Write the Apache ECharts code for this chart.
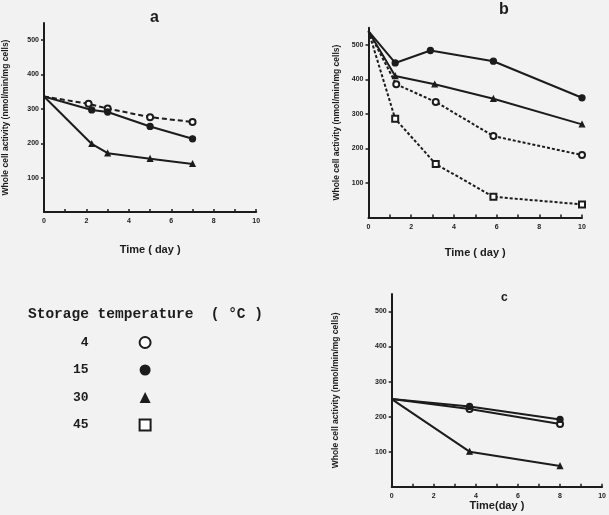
<!DOCTYPE html>
<html lang="en">
<head>
    <meta charset="UTF-8">
    <title>Whole cell activity vs storage time</title>
</head>
<body style="margin:0;background:#f2f2f2;">
<div id='main' style="height: 515px;width: 609px"></div>
<script src="https://cdn.jsdelivr.net/npm/echarts@6/dist/echarts.min.js"></script>
<script>
    // storage temperatures (legend names)
    var temps = ['4', '15', '30', '45'];

    // panel a
    var aDays4 = [0, 2.1, 3, 5, 7];
    var aVals4 = [336, 315, 301, 276, 262];
    var aDays15 = [0, 2.25, 3, 5, 7];
    var aVals15 = [336, 297, 291, 249, 213];
    var aDays30 = [0, 2.25, 3, 5, 7];
    var aVals30 = [336, 198, 171, 155, 140];

    // panel b
    var bDays4 = [0, 1.3, 3.15, 5.85, 10];
    var bVals4 = [540, 386, 335, 236, 181];
    var bDays15 = [0, 1.25, 2.9, 5.85, 10];
    var bVals15 = [540, 448, 484, 453, 347];
    var bDays30 = [0, 1.25, 3.1, 5.85, 10];
    var bVals30 = [540, 410, 386, 344, 270];
    var bDays45 = [0, 1.25, 3.15, 5.85, 10];
    var bVals45 = [540, 286, 155, 60, 38];

    // panel c
    var cDays = [0, 3.7, 8];
    var cVals4 = [250, 222, 179];
    var cVals15 = [250, 229, 192];
    var cVals30 = [250, 100, 59];

    var xTicks = [0, 2, 4, 6, 8, 10];
    var yTicks = [100, 200, 300, 400, 500];

    var ink = '#1c1c1c';
    var bg = '#f2f2f2';
    var sans = 'Liberation Sans';
    var mono = 'Liberation Mono';

    var symbols = {'4': 'emptyCircle', '15': 'circle', '30': 'triangle', '45': 'emptyRect'};
    var symSize = {'4': 6, '15': 6, '30': 5, '45': 6};

    function pts(days, vals) {
        return days.map(function (d, i) {
            if (i === 0) return {value: [d, vals[i]], symbol: 'none'};
            return [d, vals[i]];
        });
    }

    function line(name, idx, days, vals, dash) {
        return {
            name: name,
            type: 'line',
            xAxisIndex: idx,
            yAxisIndex: idx,
            data: pts(days, vals),
            symbol: symbols[name],
            symbolSize: symSize[name],
            color: ink,
            itemStyle: {color: ink, borderColor: ink, borderWidth: 1.3},
            lineStyle: {color: ink, width: 2, type: dash || 'solid'},
            z: 3
        };
    }

    function xAxis(idx, gap, nameStr) {
        return {
            gridIndex: idx,
            type: 'value',
            min: 0, max: 10, interval: 1,
            name: nameStr,
            nameLocation: 'middle',
            nameGap: gap,
            nameTextStyle: {fontFamily: sans, fontWeight: 'bold', fontSize: 11, color: ink},
            axisLine: {lineStyle: {color: ink, width: 2}},
            axisTick: {show: true, inside: true, length: 3, lineStyle: {color: ink, width: 1.5}},
            axisLabel: {
                customValues: xTicks,
                margin: 6,
                fontFamily: sans, fontWeight: 'bold', fontSize: 7, color: ink
            },
            splitLine: {show: false}
        };
    }

    function yAxis(idx, gap) {
        return {
            gridIndex: idx,
            type: 'value',
            min: 0, max: 550, interval: 100,
            name: 'Whole cell activity (nmol/min/mg cells)',
            nameLocation: 'middle',
            nameGap: gap,
            nameTextStyle: {fontFamily: sans, fontWeight: 'bold', fontSize: 8.5, color: ink},
            axisLine: {show: true, lineStyle: {color: ink, width: 2}},
            axisTick: {show: true, customValues: yTicks, length: 3, lineStyle: {color: ink, width: 1.5}},
            axisLabel: {
                customValues: yTicks,
                margin: 5,
                fontFamily: sans, fontWeight: 'bold', fontSize: 7, color: ink
            },
            splitLine: {show: false}
        };
    }

    var myChart = echarts.init(document.getElementById('main'));

    var option = {
        backgroundColor: bg,
        animation: false,
        title: [
            {text: 'a', left: 145, top: 5, textStyle: {fontFamily: sans, fontWeight: 'bold', fontSize: 16, color: ink}},
            {text: 'b', left: 494, top: -3, textStyle: {fontFamily: sans, fontWeight: 'bold', fontSize: 16, color: ink}},
            {text: 'c', left: 496, top: 287, textStyle: {fontFamily: sans, fontWeight: 'bold', fontSize: 12, color: ink}},
            {text: 'Storage temperature  ( °C )', left: 23, top: 302,
                textStyle: {fontFamily: mono, fontWeight: 'bold', fontSize: 14.5, color: ink}}
        ],
        legend: {
            orient: 'vertical',
            left: 68,
            top: 331,
            align: 'right',
            itemGap: 14.5,
            itemWidth: 11,
            itemHeight: 11,
            selectedMode: false,
            formatter: function (name) {
                return '{n|' + name + '}';
            },
            textStyle: {
                rich: {
                    n: {width: 30, align: 'right', padding: [0, 46, 0, 0],
                        fontFamily: mono, fontWeight: 'bold', fontSize: 13, color: ink}
                }
            },
            data: [
                {name: '4', icon: 'emptyCircle', itemStyle: {color: ink}},
                {name: '15', icon: 'circle', itemStyle: {color: ink, borderWidth: 0}},
                {name: '30', icon: 'triangle', itemStyle: {color: ink, borderWidth: 0}},
                {name: '45', icon: 'emptyRect', itemStyle: {color: ink}}
            ]
        },
        grid: [
            {left: 42.7, top: 23, width: 213.5, height: 189},
            {left: 368.5, top: 27.75, width: 213.5, height: 189.75},
            {left: 391.7, top: 294, width: 212.5, height: 192.7}
        ],
        xAxis: [
            xAxis(0, 32, 'Time ( day )'),
            xAxis(1, 30, 'Time ( day )'),
            xAxis(2, 9, 'Time(day )')
        ],
        yAxis: [
            yAxis(0, 34),
            yAxis(1, 27),
            yAxis(2, 52)
        ],
        series: [
            line('4', 0, aDays4, aVals4, [5, 3]),
            line('15', 0, aDays15, aVals15),
            line('30', 0, aDays30, aVals30),

            line('4', 1, bDays4, bVals4, [3, 2]),
            line('15', 1, bDays15, bVals15),
            line('30', 1, bDays30, bVals30),
            line('45', 1, bDays45, bVals45, [3, 2]),

            line('4', 2, cDays, cVals4),
            line('15', 2, cDays, cVals15),
            line('30', 2, cDays, cVals30)
        ]
    };
    myChart.setOption(option);
</script>
</body>
</html>
